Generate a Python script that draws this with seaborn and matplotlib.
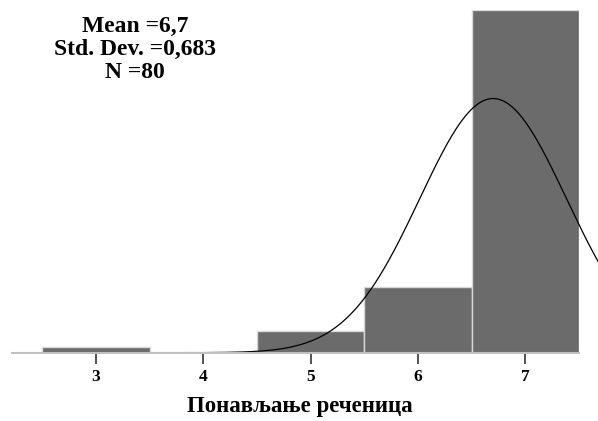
import numpy as np
import pandas as pd
import matplotlib
matplotlib.use("Agg")
import matplotlib.pyplot as plt
import seaborn as sns

# Data
scores = [3, 4, 5, 6, 7]
counts = [1, 0, 4, 12, 63]
mean_label = "6,7"
sd_label = "0,683"
n_label = "80"
mean_val = 6.7
sd_val = 0.683
n_val = 80
xlabel = "Понављање реченица"

sns.set_theme(style="white")
plt.rcParams['font.family'] = ['Liberation Serif', 'DejaVu Serif']
plt.rcParams['text.color'] = 'black'
plt.rcParams['axes.labelcolor'] = 'black'
plt.rcParams['xtick.color'] = 'black'

df = pd.DataFrame({"score": scores, "count": counts})

fig = plt.figure(figsize=(5.98, 4.21), dpi=100)
ax = fig.add_axes([12/598, 68.3/421, 567/598, 342.7/421])

sns.histplot(data=df, x="score", weights="count", discrete=True,
             color="#6b6b6b", edgecolor="#d8d8d8", linewidth=1.0, alpha=1.0, ax=ax)

xs = np.linspace(2.3, 7.68, 400)
ys = n_val * 1.0 / (sd_val * np.sqrt(2 * np.pi)) * np.exp(-0.5 * ((xs - mean_val) / sd_val) ** 2)
ax.plot(xs, ys, color="black", linewidth=0.9, clip_on=False)

ax.set_xlim(2.219, 7.5)
ax.set_ylim(0, 63)
ax.set_xticks(scores)
ax.set_xticklabels([str(s) for s in scores], fontweight="bold", fontsize=12.5, color="black")
ax.set_yticks([])
ax.set_ylabel("")
ax.set_xlabel(xlabel, fontweight="bold", fontsize=16.5, color="black")
ax.xaxis.set_label_coords((300 - 12) / 567, -43.5 / 342.7)
for side in ["top", "right", "left"]:
    ax.spines[side].set_visible(False)
ax.spines["bottom"].set_color("#c0c0c0")
ax.spines["bottom"].set_linewidth(1.5)
ax.tick_params(axis="x", bottom=True, length=8, width=1.2, color="#333333", pad=4)

cx = 135 / 598
fig.text(cx, 1 - 31.5/421, f"Mean ={mean_label}", ha="center", va="baseline",
         fontweight="bold", fontsize=17, color="black")
fig.text(cx, 1 - 55/421, f"Std. Dev. ={sd_label}", ha="center", va="baseline",
         fontweight="bold", fontsize=17, color="black")
fig.text(cx, 1 - 78/421, f"N ={n_label}", ha="center", va="baseline",
         fontweight="bold", fontsize=17, color="black")

fig.savefig("out.png", dpi=100)
